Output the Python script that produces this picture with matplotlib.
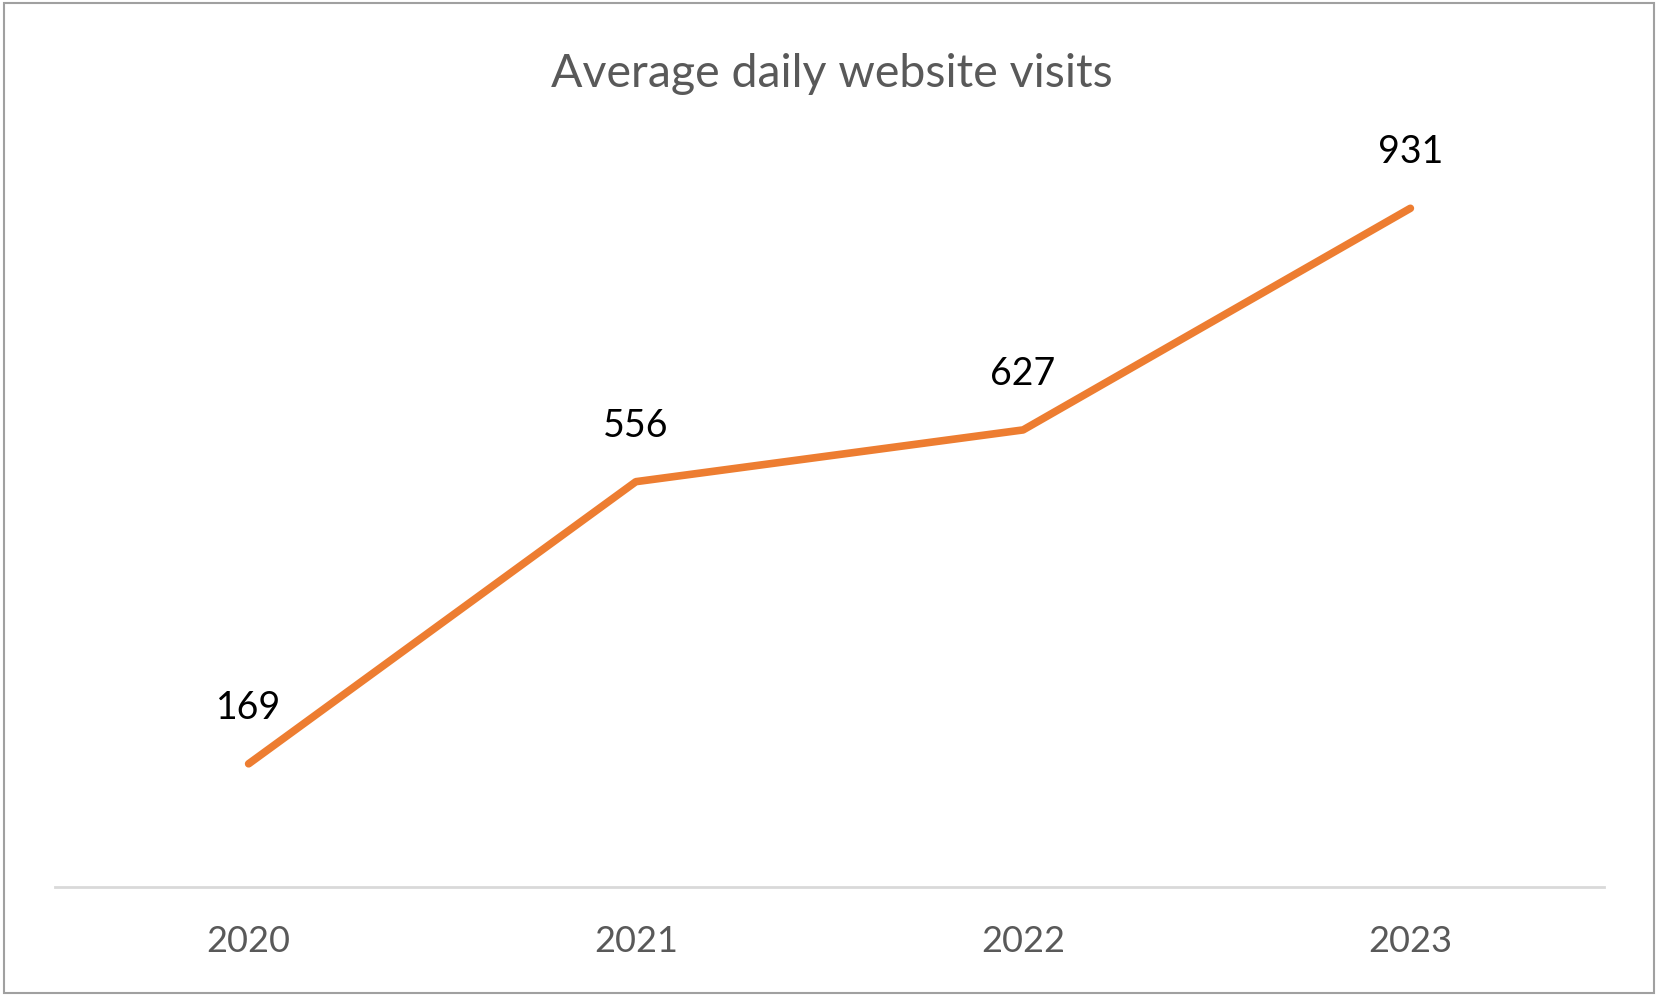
import matplotlib
matplotlib.use('Agg')
import matplotlib.pyplot as plt
from matplotlib.patches import Rectangle

years = ['2020', '2021', '2022', '2023']
visits = [169, 556, 627, 931]

plt.rcParams['font.family'] = ['Lato', 'DejaVu Sans']

W, H = 1663, 1003
fig = plt.figure(figsize=(W / 100, H / 100), dpi=100)
fig.patch.set_facecolor('white')

# plot area in pixels: x 55..1604, y 159..888
ax = fig.add_axes([55 / W, 1 - 888 / H, (1604 - 55) / W, (888 - 159) / H])
x = list(range(len(years)))
ax.plot(x, visits, color='#ED7D31', linewidth=5.5, solid_capstyle='round',
        solid_joinstyle='round')
ax.set_xlim(-0.5, len(years) - 0.5)
ax.set_ylim(0, 1000)

for xi, v in zip(x, visits):
    ax.annotate(str(v), (xi, v), xytext=(0, 41), textcoords='offset points',
                ha='center', va='center', fontsize=27, color='black')

ax.set_xticks(x)
ax.set_xticklabels(years, fontsize=26, color='#595959')
ax.tick_params(axis='x', length=0, pad=27)
ax.set_yticks([])
for s in ['top', 'left', 'right']:
    ax.spines[s].set_visible(False)
ax.spines['bottom'].set_color('#D9D9D9')
ax.spines['bottom'].set_linewidth(2)

fig.text(0.5, 1 - 74 / H, 'Average daily website visits', ha='center', va='center',
         fontsize=33.5, color='#595959')

# chart border
fig.patches.append(Rectangle((4 / W, 1 - 994 / H), 1650 / W, 990 / H,
                             transform=fig.transFigure, fill=False,
                             edgecolor='#A0A0A0', linewidth=1.5))

fig.savefig('out.png', dpi=100)
